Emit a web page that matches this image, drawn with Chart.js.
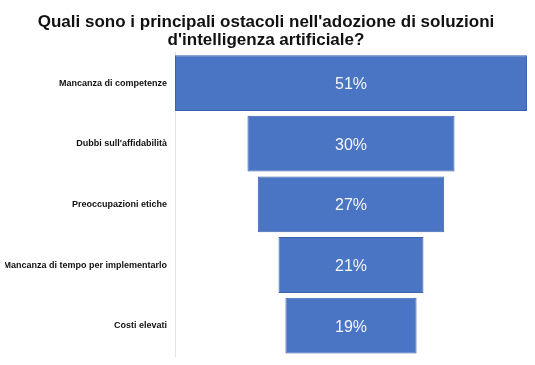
<!DOCTYPE html>
<html>
<head>
<meta charset="utf-8">
<script src="https://cdn.jsdelivr.net/npm/chart.js@4"></script>
<style>
  html, body { margin: 0; padding: 0; background: #ffffff; }
  #wrap { width: 535px; height: 365px; position: relative; }
</style>
</head>
<body>
<div id="wrap"><canvas id="c"></canvas></div>
<script>
const titleLines = ["Quali sono i principali ostacoli nell'adozione di soluzioni", "d'intelligenza artificiale?"];
const categories = ["Mancanza di competenze", "Dubbi sull'affidabilità", "Preoccupazioni etiche", "Mancanza di tempo per implementarlo", "Costi elevati"];
const values = [51, 30, 27, 21, 19];
const valueLabels = ["51%", "30%", "27%", "21%", "19%"];

const FONT = "'Liberation Sans', Arial, Helvetica, sans-serif";

const centerLabels = {
  id: 'centerLabels',
  afterDatasetsDraw(chart) {
    const ctx = chart.ctx;
    const meta = chart.getDatasetMeta(0);
    ctx.save();
    ctx.fillStyle = '#f4f6fb';
    ctx.font = '16px ' + FONT;
    ctx.textAlign = 'center';
    ctx.textBaseline = 'middle';
    meta.data.forEach((el, i) => {
      const p = el.getProps(['x', 'y', 'base'], true);
      ctx.fillText(valueLabels[i], (p.x + p.base) / 2, p.y + 1.5);
    });
    ctx.restore();
  }
};

new Chart(document.getElementById('c'), {
  type: 'bar',
  data: {
    labels: categories,
    datasets: [{
      data: values.map(v => [-v / 2, v / 2]),
      backgroundColor: '#4a74c4',
      borderColor: '#3a62b0',
      borderWidth: 1,
      borderSkipped: false,
      categoryPercentage: 1,
      barPercentage: 0.92
    }]
  },
  options: {
    indexAxis: 'y',
    responsive: true,
    maintainAspectRatio: false,
    animation: false,
    layout: { padding: { left: 5, right: 8, top: 0, bottom: 9 } },
    plugins: {
      legend: { display: false },
      tooltip: { enabled: false },
      title: {
        display: true,
        text: titleLines,
        color: '#111111',
        font: { family: FONT, size: 17, weight: 'bold', lineHeight: 1.08 },
        padding: { top: 13, bottom: 3 }
      }
    },
    scales: {
      x: {
        display: false,
        min: -25.5,
        max: 25.5
      },
      y: {
        afterFit(scale) {
          scale.width = 170;
          scale.paddingTop = 0;
          scale.paddingBottom = 0;
        },
        grid: { display: false, drawTicks: false },
        border: { display: true, color: '#e2e2e2', width: 1 },
        ticks: {
          color: '#111111',
          padding: 8,
          font: { family: FONT, size: 9, weight: 'bold' }
        }
      }
    }
  },
  plugins: [centerLabels]
});
</script>
</body>
</html>
